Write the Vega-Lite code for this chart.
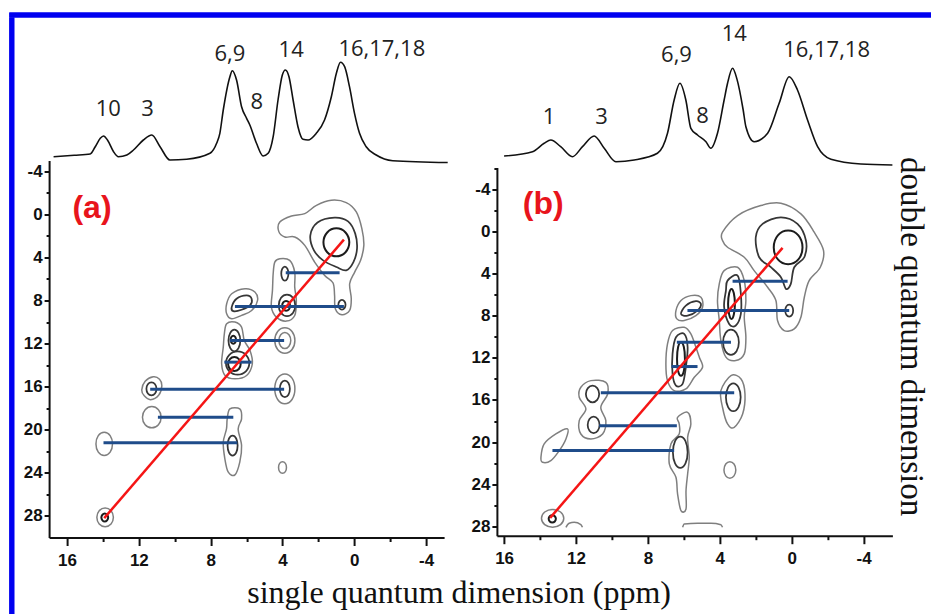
{
"$schema":"https://vega.github.io/schema/vega-lite/v6.json",
"padding":{"left":9.3,"top":12.5,"right":0,"bottom":0},
"background":"white",
"title":{"text":"single quantum dimension (ppm)","orient":"bottom","anchor":"middle","frame":"bounds","offset":-36,"dx":-11,"font":"Liberation Serif","fontSize":32,"fontWeight":"normal","color":"#111"},
"datasets":{
"spa":[{"ppm":16.75,"i":3.5},{"ppm":15.6,"i":4.9},{"ppm":14.71,"i":6.2},{"ppm":14.43,"i":13.5},{"ppm":14.15,"i":21.9},{"ppm":13.97,"i":24.2},{"ppm":13.75,"i":20.2},{"ppm":13.41,"i":8.5},{"ppm":13.14,"i":3.5},{"ppm":12.67,"i":5.2},{"ppm":12.3,"i":10.2},{"ppm":11.75,"i":20.2},{"ppm":11.28,"i":25.2},{"ppm":10.82,"i":13.5},{"ppm":10.27,"i":0.2},{"ppm":9.34,"i":0.9},{"ppm":8.04,"i":6.9},{"ppm":7.67,"i":16.9},{"ppm":7.49,"i":26.9},{"ppm":7.3,"i":50.2},{"ppm":6.93,"i":83.5},{"ppm":6.8,"i":89.5},{"ppm":6.56,"i":80.2},{"ppm":6.28,"i":53.5},{"ppm":6.0,"i":41.9},{"ppm":5.82,"i":35.2},{"ppm":5.45,"i":16.9},{"ppm":5.08,"i":4.2},{"ppm":4.8,"i":6.9},{"ppm":4.52,"i":23.5},{"ppm":4.25,"i":60.2},{"ppm":4.01,"i":85.2},{"ppm":3.84,"i":90.2},{"ppm":3.64,"i":83.5},{"ppm":3.41,"i":60.2},{"ppm":3.14,"i":33.5},{"ppm":2.86,"i":20.9},{"ppm":2.58,"i":20.2},{"ppm":2.12,"i":26.9},{"ppm":1.66,"i":40.2},{"ppm":1.28,"i":63.5},{"ppm":1.0,"i":86.9},{"ppm":0.77,"i":97.9},{"ppm":0.54,"i":93.5},{"ppm":0.27,"i":73.5},{"ppm":-0.01,"i":46.9},{"ppm":-0.29,"i":26.9},{"ppm":-0.66,"i":13.5},{"ppm":-1.22,"i":5.2},{"ppm":-2.14,"i":-0.5},{"ppm":-5.2,"i":-2.3}],
"spb":[{"ppm":16.0,"i":10.9},{"ppm":14.42,"i":15.2},{"ppm":13.77,"i":23.6},{"ppm":13.4,"i":26.9},{"ppm":12.85,"i":20.2},{"ppm":12.2,"i":10.2},{"ppm":11.64,"i":20.2},{"ppm":10.99,"i":30.9},{"ppm":10.43,"i":18.6},{"ppm":9.78,"i":5.2},{"ppm":8.76,"i":6.9},{"ppm":7.47,"i":13.6},{"ppm":6.91,"i":33.6},{"ppm":6.54,"i":66.9},{"ppm":6.22,"i":83.6},{"ppm":5.89,"i":66.9},{"ppm":5.61,"i":38.6},{"ppm":5.24,"i":31.9},{"ppm":4.77,"i":25.2},{"ppm":4.5,"i":18.6},{"ppm":4.13,"i":33.6},{"ppm":3.76,"i":66.9},{"ppm":3.57,"i":83.6},{"ppm":3.29,"i":98.6},{"ppm":3.05,"i":88},{"ppm":2.7,"i":56.9},{"ppm":2.55,"i":40.2},{"ppm":2.09,"i":25.2},{"ppm":1.34,"i":33.6},{"ppm":0.7,"i":63.6},{"ppm":0.14,"i":90.2},{"ppm":-0.32,"i":76.9},{"ppm":-0.88,"i":46.9},{"ppm":-1.44,"i":20.2},{"ppm":-2.18,"i":7.6},{"ppm":-3.85,"i":2.9},{"ppm":-5.6,"i":1.9}],
"la":[{"t":"10","ppm":13.7,"i":50.8},{"t":"3","ppm":11.52,"i":50.8},{"t":"6,9","ppm":6.93,"i":106.7},{"t":"8","ppm":5.43,"i":58.3},{"t":"14","ppm":3.52,"i":110},{"t":"16,17,18","ppm":-1.53,"i":111.3}],
"lb":[{"t":"1","ppm":13.5,"i":50},{"t":"3","ppm":10.58,"i":50},{"t":"6,9","ppm":6.41,"i":112.4},{"t":"8","ppm":4.96,"i":50.7},{"t":"14","ppm":3.2,"i":133.4},{"t":"16,17,18","ppm":-1.94,"i":116.7}],
"pa":[{"t":"(a)","x":14.61,"y":-0.56}],
"pb":[{"t":"(b)","x":13.82,"y":-2.64}],
"ba":[{"x1":3.82,"x2":0.82,"y":5.42},{"x1":6.65,"x2":0.58,"y":8.55},{"x1":6.93,"x2":3.91,"y":11.7},{"x1":7.24,"x2":5.72,"y":13.72},{"x1":11.37,"x2":3.91,"y":16.23},{"x1":10.94,"x2":6.74,"y":18.83},{"x1":13.97,"x2":6.52,"y":21.2}],
"ra":[{"x1":13.93,"y1":28.2,"x2":0.58,"y2":2.35}],
"bb":[{"x1":3.29,"x2":0.23,"y":4.71},{"x1":5.8,"x2":0.14,"y":7.5},{"x1":6.39,"x2":3.38,"y":10.51},{"x1":6.69,"x2":5.24,"y":12.82},{"x1":10.62,"x2":3.2,"y":15.32},{"x1":10.71,"x2":6.39,"y":18.44},{"x1":13.31,"x2":6.54,"y":20.81}],
"rb":[{"x1":13.44,"y1":27.21,"x2":0.51,"y2":1.54}],
"arcs":[{"c":1,"x":12.56,"y":28.1},{"c":1,"x":12.38,"y":27.72},{"c":1,"x":12.1,"y":27.63},{"c":1,"x":11.73,"y":27.85},{"c":1,"x":11.64,"y":28.1},{"c":2,"x":6.07,"y":28.1},{"c":2,"x":5.98,"y":27.78},{"c":2,"x":5.24,"y":27.72},{"c":2,"x":4.49,"y":27.72},{"c":2,"x":3.94,"y":27.85},{"c":2,"x":3.85,"y":28.1}],
"ca":[
{"c":1,"l":1,"x":4.15,"y":0.71},{"c":1,"l":1,"x":3.5,"y":0.15},{"c":1,"l":1,"x":2.76,"y":-0.07},{"c":1,"l":1,"x":2.11,"y":-0.84},{"c":1,"l":1,"x":1.28,"y":-1.31},{"c":1,"l":1,"x":0.45,"y":-1.09},{"c":1,"l":1,"x":-0.11,"y":-0.22},{"c":1,"l":1,"x":-0.42,"y":1.33},{"c":1,"l":1,"x":-0.53,"y":2.88},{"c":1,"l":1,"x":-0.35,"y":4.27},{"c":1,"l":1,"x":-0.02,"y":5.36},{"c":1,"l":1,"x":0.26,"y":6.44},{"c":1,"l":1,"x":0.17,"y":7.83},{"c":1,"l":1,"x":0.26,"y":8.92},{"c":1,"l":1,"x":0.69,"y":9.32},{"c":1,"l":1,"x":1.06,"y":8.76},{"c":1,"l":1,"x":1.1,"y":7.52},{"c":1,"l":1,"x":1.19,"y":6.35},{"c":1,"l":1,"x":1.65,"y":5.67},{"c":1,"l":1,"x":2.21,"y":4.43},{"c":1,"l":1,"x":2.76,"y":2.88},{"c":1,"l":1,"x":3.32,"y":2.1},{"c":1,"l":1,"x":3.87,"y":2.1},{"c":1,"l":1,"x":4.21,"y":1.58},
{"c":2,"l":2,"x":2.45,"y":1.95},{"c":2,"l":2,"x":2.05,"y":0.75},{"c":2,"l":2,"x":1.1,"y":0.3},{"c":2,"l":2,"x":0.35,"y":0.65},{"c":2,"l":2,"x":-0.05,"y":1.79},{"c":2,"l":2,"x":-0.15,"y":3.19},{"c":2,"l":2,"x":0.05,"y":4.43},{"c":2,"l":2,"x":0.45,"y":5.2},{"c":2,"l":2,"x":1.0,"y":4.89},{"c":2,"l":2,"x":1.74,"y":4.27},{"c":2,"l":2,"x":2.25,"y":3.34},
{"c":3,"l":3,"x":0.28,"y":2.6},{"c":3,"l":3,"x":0.49,"y":3.52},{"c":3,"l":3,"x":1.0,"y":3.9},{"c":3,"l":3,"x":1.51,"y":3.52},{"c":3,"l":3,"x":1.72,"y":2.6},{"c":3,"l":3,"x":1.51,"y":1.68},{"c":3,"l":3,"x":1.0,"y":1.3},{"c":3,"l":3,"x":0.49,"y":1.68},
{"c":4,"l":2,"x":0.49,"y":8.4},{"c":4,"l":2,"x":0.55,"y":8.72},{"c":4,"l":2,"x":0.69,"y":8.85},{"c":4,"l":2,"x":0.83,"y":8.72},{"c":4,"l":2,"x":0.89,"y":8.4},{"c":4,"l":2,"x":0.83,"y":8.08},{"c":4,"l":2,"x":0.69,"y":7.95},{"c":4,"l":2,"x":0.55,"y":8.08},
{"c":5,"l":1,"x":4.15,"y":4.12},{"c":5,"l":1,"x":3.6,"y":4.27},{"c":5,"l":1,"x":3.32,"y":5.36},{"c":5,"l":1,"x":3.32,"y":6.75},{"c":5,"l":1,"x":3.23,"y":7.99},{"c":5,"l":1,"x":3.32,"y":9.39},{"c":5,"l":1,"x":3.78,"y":9.91},{"c":5,"l":1,"x":4.34,"y":9.54},{"c":5,"l":1,"x":4.62,"y":8.61},{"c":5,"l":1,"x":4.56,"y":7.06},{"c":5,"l":1,"x":4.52,"y":5.51},{"c":5,"l":1,"x":4.43,"y":4.43},
{"c":6,"l":2,"x":3.67,"y":5.5},{"c":6,"l":2,"x":3.73,"y":5.96},{"c":6,"l":2,"x":3.87,"y":6.15},{"c":6,"l":2,"x":4.01,"y":5.96},{"c":6,"l":2,"x":4.07,"y":5.5},{"c":6,"l":2,"x":4.01,"y":5.04},{"c":6,"l":2,"x":3.87,"y":4.85},{"c":6,"l":2,"x":3.73,"y":5.04},
{"c":7,"l":2,"x":3.29,"y":8.45},{"c":7,"l":2,"x":3.42,"y":9.16},{"c":7,"l":2,"x":3.75,"y":9.45},{"c":7,"l":2,"x":4.08,"y":9.16},{"c":7,"l":2,"x":4.21,"y":8.45},{"c":7,"l":2,"x":4.08,"y":7.74},{"c":7,"l":2,"x":3.75,"y":7.45},{"c":7,"l":2,"x":3.42,"y":7.74},
{"c":8,"l":3,"x":3.58,"y":8.5},{"c":8,"l":3,"x":3.64,"y":8.82},{"c":8,"l":3,"x":3.8,"y":8.95},{"c":8,"l":3,"x":3.96,"y":8.82},{"c":8,"l":3,"x":4.02,"y":8.5},{"c":8,"l":3,"x":3.96,"y":8.18},{"c":8,"l":3,"x":3.8,"y":8.05},{"c":8,"l":3,"x":3.64,"y":8.18},
{"c":9,"l":1,"x":7.11,"y":8.3},{"c":9,"l":1,"x":6.83,"y":7.37},{"c":9,"l":1,"x":6.09,"y":6.9},{"c":9,"l":1,"x":5.54,"y":7.21},{"c":9,"l":1,"x":5.39,"y":7.99},{"c":9,"l":1,"x":5.72,"y":8.92},{"c":9,"l":1,"x":6.28,"y":9.38},{"c":9,"l":1,"x":6.83,"y":9.69},{"c":9,"l":1,"x":7.11,"y":9.23},
{"c":10,"l":2,"x":6.83,"y":8.61},{"c":10,"l":2,"x":6.56,"y":7.83},{"c":10,"l":2,"x":6.0,"y":7.52},{"c":10,"l":2,"x":5.72,"y":7.83},{"c":10,"l":2,"x":5.81,"y":8.45},{"c":10,"l":2,"x":6.28,"y":8.86},{"c":10,"l":2,"x":6.74,"y":8.98},
{"c":11,"l":1,"x":7.11,"y":10.16},{"c":11,"l":1,"x":6.65,"y":10.0},{"c":11,"l":1,"x":6.28,"y":10.47},{"c":11,"l":1,"x":6.13,"y":11.71},{"c":11,"l":1,"x":5.81,"y":12.64},{"c":11,"l":1,"x":5.68,"y":13.87},{"c":11,"l":1,"x":6.0,"y":14.96},{"c":11,"l":1,"x":6.65,"y":15.27},{"c":11,"l":1,"x":7.2,"y":14.96},{"c":11,"l":1,"x":7.39,"y":13.87},{"c":11,"l":1,"x":7.3,"y":12.33},{"c":11,"l":1,"x":7.24,"y":11.09},
{"c":12,"l":2,"x":6.35,"y":11.71},{"c":12,"l":2,"x":6.45,"y":12.42},{"c":12,"l":2,"x":6.68,"y":12.71},{"c":12,"l":2,"x":6.91,"y":12.42},{"c":12,"l":2,"x":7.01,"y":11.71},{"c":12,"l":2,"x":6.91,"y":11.0},{"c":12,"l":2,"x":6.68,"y":10.71},{"c":12,"l":2,"x":6.45,"y":11.0},
{"c":13,"l":3,"x":6.59,"y":11.64},{"c":13,"l":3,"x":6.63,"y":11.9},{"c":13,"l":3,"x":6.74,"y":12.01},{"c":13,"l":3,"x":6.85,"y":11.9},{"c":13,"l":3,"x":6.89,"y":11.64},{"c":13,"l":3,"x":6.85,"y":11.38},{"c":13,"l":3,"x":6.74,"y":11.27},{"c":13,"l":3,"x":6.63,"y":11.38},
{"c":14,"l":2,"x":5.85,"y":13.81},{"c":14,"l":2,"x":6.04,"y":14.58},{"c":14,"l":2,"x":6.5,"y":14.89},{"c":14,"l":2,"x":6.96,"y":14.58},{"c":14,"l":2,"x":7.15,"y":13.81},{"c":14,"l":2,"x":6.96,"y":13.04},{"c":14,"l":2,"x":6.5,"y":12.73},{"c":14,"l":2,"x":6.04,"y":13.04},
{"c":15,"l":3,"x":6.33,"y":13.9},{"c":15,"l":3,"x":6.43,"y":14.36},{"c":15,"l":3,"x":6.68,"y":14.55},{"c":15,"l":3,"x":6.93,"y":14.36},{"c":15,"l":3,"x":7.03,"y":13.9},{"c":15,"l":3,"x":6.93,"y":13.44},{"c":15,"l":3,"x":6.68,"y":13.25},{"c":15,"l":3,"x":6.43,"y":13.44},
{"c":16,"l":1,"x":3.31,"y":11.71},{"c":16,"l":1,"x":3.47,"y":12.55},{"c":16,"l":1,"x":3.87,"y":12.89},{"c":16,"l":1,"x":4.27,"y":12.55},{"c":16,"l":1,"x":4.43,"y":11.71},{"c":16,"l":1,"x":4.27,"y":10.87},{"c":16,"l":1,"x":3.87,"y":10.53},{"c":16,"l":1,"x":3.47,"y":10.87},
{"c":17,"l":1,"x":3.54,"y":11.71},{"c":17,"l":1,"x":3.64,"y":12.24},{"c":17,"l":1,"x":3.87,"y":12.46},{"c":17,"l":1,"x":4.1,"y":12.24},{"c":17,"l":1,"x":4.2,"y":11.71},{"c":17,"l":1,"x":4.1,"y":11.18},{"c":17,"l":1,"x":3.87,"y":10.96},{"c":17,"l":1,"x":3.64,"y":11.18},
{"c":18,"l":1,"x":3.31,"y":16.2},{"c":18,"l":1,"x":3.47,"y":17.19},{"c":18,"l":1,"x":3.87,"y":17.59},{"c":18,"l":1,"x":4.27,"y":17.19},{"c":18,"l":1,"x":4.43,"y":16.2},{"c":18,"l":1,"x":4.27,"y":15.21},{"c":18,"l":1,"x":3.87,"y":14.81},{"c":18,"l":1,"x":3.47,"y":15.21},
{"c":19,"l":2,"x":3.59,"y":16.2},{"c":19,"l":2,"x":3.67,"y":16.75},{"c":19,"l":2,"x":3.87,"y":16.97},{"c":19,"l":2,"x":4.07,"y":16.75},{"c":19,"l":2,"x":4.15,"y":16.2},{"c":19,"l":2,"x":4.07,"y":15.65},{"c":19,"l":2,"x":3.87,"y":15.43},{"c":19,"l":2,"x":3.67,"y":15.65},
{"c":20,"l":1,"x":10.72,"y":15.9},{"c":20,"l":1,"x":10.9,"y":16.8},{"c":20,"l":1,"x":11.35,"y":17.2},{"c":20,"l":1,"x":11.7,"y":16.85},{"c":20,"l":1,"x":11.84,"y":16.3},{"c":20,"l":1,"x":11.65,"y":15.5},{"c":20,"l":1,"x":11.2,"y":15.08},{"c":20,"l":1,"x":10.85,"y":15.3},
{"c":21,"l":2,"x":11.02,"y":16.2},{"c":21,"l":2,"x":11.1,"y":16.63},{"c":21,"l":2,"x":11.3,"y":16.8},{"c":21,"l":2,"x":11.5,"y":16.63},{"c":21,"l":2,"x":11.58,"y":16.2},{"c":21,"l":2,"x":11.5,"y":15.77},{"c":21,"l":2,"x":11.3,"y":15.6},{"c":21,"l":2,"x":11.1,"y":15.77},
{"c":22,"l":1,"x":10.76,"y":18.83},{"c":22,"l":1,"x":10.91,"y":19.53},{"c":22,"l":1,"x":11.28,"y":19.82},{"c":22,"l":1,"x":11.65,"y":19.53},{"c":22,"l":1,"x":11.8,"y":18.83},{"c":22,"l":1,"x":11.65,"y":18.13},{"c":22,"l":1,"x":11.28,"y":17.84},{"c":22,"l":1,"x":10.91,"y":18.13},
{"c":23,"l":1,"x":13.47,"y":21.31},{"c":23,"l":1,"x":13.6,"y":22.08},{"c":23,"l":1,"x":13.93,"y":22.39},{"c":23,"l":1,"x":14.26,"y":22.08},{"c":23,"l":1,"x":14.39,"y":21.31},{"c":23,"l":1,"x":14.26,"y":20.54},{"c":23,"l":1,"x":13.93,"y":20.23},{"c":23,"l":1,"x":13.6,"y":20.54},
{"c":24,"l":1,"x":6.93,"y":18.06},{"c":24,"l":1,"x":6.38,"y":18.06},{"c":24,"l":1,"x":6.28,"y":18.99},{"c":24,"l":1,"x":6.47,"y":19.92},{"c":24,"l":1,"x":6.28,"y":21.47},{"c":24,"l":1,"x":6.38,"y":23.01},{"c":24,"l":1,"x":6.65,"y":24.19},{"c":24,"l":1,"x":7.02,"y":23.94},{"c":24,"l":1,"x":7.21,"y":22.7},{"c":24,"l":1,"x":7.3,"y":21.16},{"c":24,"l":1,"x":7.12,"y":19.92},{"c":24,"l":1,"x":7.08,"y":18.99},
{"c":25,"l":2,"x":6.5,"y":21.47},{"c":25,"l":2,"x":6.58,"y":22.13},{"c":25,"l":2,"x":6.78,"y":22.4},{"c":25,"l":2,"x":6.98,"y":22.13},{"c":25,"l":2,"x":7.06,"y":21.47},{"c":25,"l":2,"x":6.98,"y":20.81},{"c":25,"l":2,"x":6.78,"y":20.54},{"c":25,"l":2,"x":6.58,"y":20.81},
{"c":26,"l":1,"x":3.78,"y":23.5},{"c":26,"l":1,"x":3.84,"y":23.88},{"c":26,"l":1,"x":4.0,"y":24.03},{"c":26,"l":1,"x":4.16,"y":23.88},{"c":26,"l":1,"x":4.22,"y":23.5},{"c":26,"l":1,"x":4.16,"y":23.12},{"c":26,"l":1,"x":4.0,"y":22.97},{"c":26,"l":1,"x":3.84,"y":23.12},
{"c":27,"l":1,"x":13.42,"y":28.13},{"c":27,"l":1,"x":13.55,"y":28.75},{"c":27,"l":1,"x":13.88,"y":29.0},{"c":27,"l":1,"x":14.21,"y":28.75},{"c":27,"l":1,"x":14.34,"y":28.13},{"c":27,"l":1,"x":14.21,"y":27.51},{"c":27,"l":1,"x":13.88,"y":27.26},{"c":27,"l":1,"x":13.55,"y":27.51},
{"c":28,"l":3,"x":13.71,"y":28.15},{"c":28,"l":3,"x":13.77,"y":28.41},{"c":28,"l":3,"x":13.9,"y":28.52},{"c":28,"l":3,"x":14.03,"y":28.41},{"c":28,"l":3,"x":14.09,"y":28.15},{"c":28,"l":3,"x":14.03,"y":27.89},{"c":28,"l":3,"x":13.9,"y":27.78},{"c":28,"l":3,"x":13.77,"y":27.89}
],
"cb":[
{"c":1,"l":1,"x":3.85,"y":0.05},{"c":1,"l":1,"x":3.01,"y":-1.53},{"c":1,"l":1,"x":1.72,"y":-2.48},{"c":1,"l":1,"x":0.6,"y":-2.7},{"c":1,"l":1,"x":-0.51,"y":-1.69},{"c":1,"l":1,"x":-1.25,"y":0.05},{"c":1,"l":1,"x":-1.77,"y":1.8},{"c":1,"l":1,"x":-1.59,"y":3.38},{"c":1,"l":1,"x":-0.97,"y":4.65},{"c":1,"l":1,"x":-0.7,"y":6.23},{"c":1,"l":1,"x":-0.51,"y":8.13},{"c":1,"l":1,"x":-0.14,"y":9.24},{"c":1,"l":1,"x":0.42,"y":9.4},{"c":1,"l":1,"x":0.79,"y":8.45},{"c":1,"l":1,"x":0.88,"y":6.55},{"c":1,"l":1,"x":1.34,"y":5.28},{"c":1,"l":1,"x":2.09,"y":3.7},{"c":1,"l":1,"x":2.64,"y":2.43},{"c":1,"l":1,"x":3.57,"y":1.48},{"c":1,"l":1,"x":3.85,"y":0.84},
{"c":2,"l":2,"x":2.0,"y":0.53},{"c":2,"l":2,"x":1.62,"y":-0.74},{"c":2,"l":2,"x":0.6,"y":-1.37},{"c":2,"l":2,"x":-0.32,"y":-0.74},{"c":2,"l":2,"x":-0.79,"y":0.84},{"c":2,"l":2,"x":-0.7,"y":2.43},{"c":2,"l":2,"x":-0.14,"y":3.38},{"c":2,"l":2,"x":0.05,"y":4.96},{"c":2,"l":2,"x":0.32,"y":5.44},{"c":2,"l":2,"x":0.6,"y":4.33},{"c":2,"l":2,"x":1.16,"y":3.38},{"c":2,"l":2,"x":1.81,"y":2.43},
{"c":3,"l":3,"x":-0.6,"y":1.5},{"c":3,"l":3,"x":-0.37,"y":2.64},{"c":3,"l":3,"x":0.2,"y":3.1},{"c":3,"l":3,"x":0.77,"y":2.64},{"c":3,"l":3,"x":1.0,"y":1.5},{"c":3,"l":3,"x":0.77,"y":0.36},{"c":3,"l":3,"x":0.2,"y":-0.1},{"c":3,"l":3,"x":-0.37,"y":0.36},
{"c":4,"l":2,"x":-0.08,"y":7.5},{"c":4,"l":2,"x":-0.02,"y":7.9},{"c":4,"l":2,"x":0.14,"y":8.07},{"c":4,"l":2,"x":0.3,"y":7.9},{"c":4,"l":2,"x":0.36,"y":7.5},{"c":4,"l":2,"x":0.3,"y":7.1},{"c":4,"l":2,"x":0.14,"y":6.93},{"c":4,"l":2,"x":-0.02,"y":7.1},
{"c":5,"l":1,"x":3.76,"y":3.7},{"c":5,"l":1,"x":3.01,"y":3.38},{"c":5,"l":1,"x":2.64,"y":4.65},{"c":5,"l":1,"x":2.55,"y":6.55},{"c":5,"l":1,"x":2.64,"y":8.13},{"c":5,"l":1,"x":2.55,"y":10.03},{"c":5,"l":1,"x":2.64,"y":11.62},{"c":5,"l":1,"x":3.11,"y":12.25},{"c":5,"l":1,"x":3.66,"y":11.93},{"c":5,"l":1,"x":3.94,"y":10.35},{"c":5,"l":1,"x":4.03,"y":8.45},{"c":5,"l":1,"x":4.13,"y":6.55},{"c":5,"l":1,"x":4.03,"y":4.96},
{"c":6,"l":2,"x":3.57,"y":4.65},{"c":6,"l":2,"x":3.01,"y":4.17},{"c":6,"l":2,"x":2.83,"y":5.91},{"c":6,"l":2,"x":2.83,"y":7.82},{"c":6,"l":2,"x":3.11,"y":8.92},{"c":6,"l":2,"x":3.48,"y":8.77},{"c":6,"l":2,"x":3.76,"y":7.18},{"c":6,"l":2,"x":3.66,"y":5.6},
{"c":7,"l":3,"x":3.16,"y":6.87},{"c":7,"l":3,"x":3.22,"y":7.88},{"c":7,"l":3,"x":3.35,"y":8.3},{"c":7,"l":3,"x":3.48,"y":7.88},{"c":7,"l":3,"x":3.54,"y":6.87},{"c":7,"l":3,"x":3.48,"y":5.86},{"c":7,"l":3,"x":3.35,"y":5.44},{"c":7,"l":3,"x":3.22,"y":5.86},
{"c":8,"l":2,"x":2.94,"y":10.51},{"c":8,"l":2,"x":3.07,"y":11.36},{"c":8,"l":2,"x":3.38,"y":11.71},{"c":8,"l":2,"x":3.69,"y":11.36},{"c":8,"l":2,"x":3.82,"y":10.51},{"c":8,"l":2,"x":3.69,"y":9.66},{"c":8,"l":2,"x":3.38,"y":9.31},{"c":8,"l":2,"x":3.07,"y":9.66},
{"c":9,"l":1,"x":6.44,"y":7.5},{"c":9,"l":1,"x":6.16,"y":6.55},{"c":9,"l":1,"x":5.61,"y":6.08},{"c":9,"l":1,"x":5.05,"y":6.23},{"c":9,"l":1,"x":4.96,"y":7.18},{"c":9,"l":1,"x":5.33,"y":7.98},{"c":9,"l":1,"x":5.98,"y":8.45},{"c":9,"l":1,"x":6.39,"y":8.29},
{"c":10,"l":2,"x":6.16,"y":7.82},{"c":10,"l":2,"x":5.89,"y":7.03},{"c":10,"l":2,"x":5.33,"y":6.61},{"c":10,"l":2,"x":5.05,"y":6.87},{"c":10,"l":2,"x":5.24,"y":7.5},{"c":10,"l":2,"x":5.79,"y":7.98},
{"c":11,"l":1,"x":6.63,"y":9.4},{"c":11,"l":1,"x":5.98,"y":9.09},{"c":11,"l":1,"x":5.61,"y":9.72},{"c":11,"l":1,"x":5.33,"y":10.99},{"c":11,"l":1,"x":5.14,"y":11.94},{"c":11,"l":1,"x":4.96,"y":12.89},{"c":11,"l":1,"x":5.42,"y":13.84},{"c":11,"l":1,"x":5.89,"y":14.95},{"c":11,"l":1,"x":6.54,"y":15.11},{"c":11,"l":1,"x":6.91,"y":14.16},{"c":11,"l":1,"x":7.0,"y":12.57},{"c":11,"l":1,"x":6.91,"y":10.67},
{"c":12,"l":2,"x":6.44,"y":10.04},{"c":12,"l":2,"x":5.98,"y":9.72},{"c":12,"l":2,"x":5.79,"y":10.99},{"c":12,"l":2,"x":5.89,"y":12.89},{"c":12,"l":2,"x":6.07,"y":14.47},{"c":12,"l":2,"x":6.44,"y":14.63},{"c":12,"l":2,"x":6.63,"y":13.52},{"c":12,"l":2,"x":6.63,"y":11.62},
{"c":13,"l":3,"x":5.94,"y":12.1},{"c":13,"l":3,"x":6.0,"y":13.24},{"c":13,"l":3,"x":6.16,"y":13.7},{"c":13,"l":3,"x":6.32,"y":13.24},{"c":13,"l":3,"x":6.38,"y":12.1},{"c":13,"l":3,"x":6.32,"y":10.96},{"c":13,"l":3,"x":6.16,"y":10.5},{"c":13,"l":3,"x":6.0,"y":10.96},
{"c":14,"l":1,"x":3.38,"y":13.68},{"c":14,"l":1,"x":2.82,"y":14.0},{"c":14,"l":1,"x":2.6,"y":15.43},{"c":14,"l":1,"x":2.73,"y":17.33},{"c":14,"l":1,"x":3.2,"y":18.6},{"c":14,"l":1,"x":3.57,"y":18.28},{"c":14,"l":1,"x":3.85,"y":16.69},{"c":14,"l":1,"x":3.94,"y":15.11},
{"c":15,"l":2,"x":2.84,"y":15.74},{"c":15,"l":2,"x":2.96,"y":16.68},{"c":15,"l":2,"x":3.25,"y":17.07},{"c":15,"l":2,"x":3.54,"y":16.68},{"c":15,"l":2,"x":3.66,"y":15.74},{"c":15,"l":2,"x":3.54,"y":14.8},{"c":15,"l":2,"x":3.25,"y":14.41},{"c":15,"l":2,"x":2.96,"y":14.8},
{"c":16,"l":1,"x":11.73,"y":14.79},{"c":16,"l":1,"x":11.17,"y":14.16},{"c":16,"l":1,"x":10.34,"y":14.32},{"c":16,"l":1,"x":10.24,"y":15.43},{"c":16,"l":1,"x":10.62,"y":16.69},{"c":16,"l":1,"x":10.34,"y":17.96},{"c":16,"l":1,"x":10.52,"y":19.23},{"c":16,"l":1,"x":11.17,"y":19.7},{"c":16,"l":1,"x":11.73,"y":19.23},{"c":16,"l":1,"x":11.82,"y":17.96},{"c":16,"l":1,"x":11.45,"y":16.85},{"c":16,"l":1,"x":11.82,"y":15.74},
{"c":17,"l":2,"x":10.71,"y":15.43},{"c":17,"l":2,"x":10.82,"y":15.99},{"c":17,"l":2,"x":11.08,"y":16.22},{"c":17,"l":2,"x":11.34,"y":15.99},{"c":17,"l":2,"x":11.45,"y":15.43},{"c":17,"l":2,"x":11.34,"y":14.87},{"c":17,"l":2,"x":11.08,"y":14.64},{"c":17,"l":2,"x":10.82,"y":14.87},
{"c":18,"l":2,"x":10.69,"y":18.37},{"c":18,"l":2,"x":10.79,"y":18.93},{"c":18,"l":2,"x":11.02,"y":19.16},{"c":18,"l":2,"x":11.25,"y":18.93},{"c":18,"l":2,"x":11.35,"y":18.37},{"c":18,"l":2,"x":11.25,"y":17.81},{"c":18,"l":2,"x":11.02,"y":17.58},{"c":18,"l":2,"x":10.79,"y":17.81},
{"c":20,"l":1,"x":13.95,"y":21.45},{"c":20,"l":1,"x":13.77,"y":20.18},{"c":20,"l":1,"x":13.12,"y":19.23},{"c":20,"l":1,"x":12.47,"y":18.75},{"c":20,"l":1,"x":12.56,"y":19.7},{"c":20,"l":1,"x":12.93,"y":20.81},{"c":20,"l":1,"x":13.4,"y":21.76},{"c":20,"l":1,"x":13.86,"y":21.92},
{"c":21,"l":1,"x":6.35,"y":17.65},{"c":21,"l":1,"x":5.79,"y":17.17},{"c":21,"l":1,"x":5.61,"y":18.28},{"c":21,"l":1,"x":5.79,"y":19.55},{"c":21,"l":1,"x":5.7,"y":21.45},{"c":21,"l":1,"x":5.79,"y":23.03},{"c":21,"l":1,"x":5.88,"y":24.62},{"c":21,"l":1,"x":5.88,"y":26.36},{"c":21,"l":1,"x":6.16,"y":26.52},{"c":21,"l":1,"x":6.35,"y":24.93},{"c":21,"l":1,"x":6.44,"y":23.35},{"c":21,"l":1,"x":6.81,"y":22.08},{"c":21,"l":1,"x":6.72,"y":20.18},{"c":21,"l":1,"x":6.26,"y":19.23},{"c":21,"l":1,"x":6.26,"y":18.28},
{"c":22,"l":2,"x":5.79,"y":20.97},{"c":22,"l":2,"x":5.91,"y":22.03},{"c":22,"l":2,"x":6.2,"y":22.46},{"c":22,"l":2,"x":6.49,"y":22.03},{"c":22,"l":2,"x":6.61,"y":20.97},{"c":22,"l":2,"x":6.49,"y":19.91},{"c":22,"l":2,"x":6.2,"y":19.48},{"c":22,"l":2,"x":5.91,"y":19.91},
{"c":23,"l":1,"x":3.11,"y":22.65},{"c":23,"l":1,"x":3.21,"y":23.21},{"c":23,"l":1,"x":3.44,"y":23.44},{"c":23,"l":1,"x":3.67,"y":23.21},{"c":23,"l":1,"x":3.77,"y":22.65},{"c":23,"l":1,"x":3.67,"y":22.09},{"c":23,"l":1,"x":3.44,"y":21.86},{"c":23,"l":1,"x":3.21,"y":22.09},
{"c":24,"l":1,"x":12.68,"y":27.25},{"c":24,"l":1,"x":12.86,"y":27.85},{"c":24,"l":1,"x":13.3,"y":28.1},{"c":24,"l":1,"x":13.74,"y":27.85},{"c":24,"l":1,"x":13.92,"y":27.25},{"c":24,"l":1,"x":13.74,"y":26.65},{"c":24,"l":1,"x":13.3,"y":26.4},{"c":24,"l":1,"x":12.86,"y":26.65},
{"c":25,"l":3,"x":13.12,"y":27.3},{"c":25,"l":3,"x":13.18,"y":27.55},{"c":25,"l":3,"x":13.32,"y":27.65},{"c":25,"l":3,"x":13.46,"y":27.55},{"c":25,"l":3,"x":13.52,"y":27.3},{"c":25,"l":3,"x":13.46,"y":27.05},{"c":25,"l":3,"x":13.32,"y":26.95},{"c":25,"l":3,"x":13.18,"y":27.05}
]
},
"spacing":0,
"vconcat":[
{"width":921.7,"height":5,"view":{"fill":"#0000f0","stroke":null},"data":{"values":[{}]},"mark":{"type":"rect","color":"#0000f0"},"encoding":{}},
{"spacing":8.8,"hconcat":[
 {"width":5,"height":597,"view":{"fill":"#0000f0","stroke":null},"data":{"values":[{}]},"mark":{"type":"rect","color":"#0000f0"},"encoding":{}},
 {"spacing":0,"bounds":"flush","vconcat":[
  {"width":412.3,"height":142.7,"layer":[
   {"data":{"name":"spa"},"mark":{"type":"line","interpolate":"monotone","color":"#111","strokeWidth":1.6},
    "encoding":{"x":{"field":"ppm","type":"quantitative","scale":{"domain":[17,-5.963],"nice":false,"zero":false},"axis":null},
                "y":{"field":"i","type":"quantitative","scale":{"domain":[0,142.7],"nice":false,"zero":false},"axis":null}}},
   {"data":{"name":"la"},"mark":{"type":"text","font":"Open Sans","fontSize":22,"color":"#222","align":"center","baseline":"middle"},
    "encoding":{"x":{"field":"ppm","type":"quantitative","scale":{"domain":[17,-5.963],"nice":false,"zero":false},"axis":null},
                "y":{"field":"i","type":"quantitative","scale":{"domain":[0,142.7],"nice":false,"zero":false},"axis":null},
                "text":{"field":"t"}}}
  ]},
  {"width":395,"height":377,"resolve":{"axis":{"x":"independent","y":"independent"}},"layer":[
   {"data":{"name":"ca"},"mark":{"type":"line","interpolate":"cardinal-closed"},
    "encoding":{"x":{"field":"x","type":"quantitative","scale":{"domain":[17,-5],"nice":false,"zero":false},"axis":null},
                "y":{"field":"y","type":"quantitative","scale":{"domain":[30,-5],"nice":false,"zero":false},"axis":null},
                "detail":{"field":"c","type":"nominal"},
                "order":{"value":null},
                "color":{"field":"l","type":"ordinal","scale":{"domain":[1,2,3],"range":["#7f7f7f","#363636","#1c1c1c"]},"legend":null},
                "strokeWidth":{"field":"l","type":"quantitative","scale":{"domain":[1,3],"range":[1.5,2]},"legend":null}}},
   {"data":{"name":"ba"},"mark":{"type":"rule","color":"#1f4c8a","strokeWidth":3},
    "encoding":{"x":{"field":"x1","type":"quantitative","scale":{"domain":[17,-5],"nice":false,"zero":false},"axis":{"orient":"bottom","values":[16,12,8,4,0,-4],"tickSize":8,"labelPadding":7,"title":null,"labelExpr":"toString(datum.value)"}},
                "x2":{"field":"x2"},
                "y":{"field":"y","type":"quantitative","scale":{"domain":[30,-5],"nice":false,"zero":false},"axis":{"orient":"left","values":[-4,0,4,8,12,16,20,24,28],"tickSize":5,"labelPadding":2,"title":null,"labelExpr":"toString(datum.value)"}}}},
   {"data":{"name":"ra"},"mark":{"type":"rule","color":"#f51515","strokeWidth":2.5},
    "encoding":{"x":{"field":"x1","type":"quantitative","scale":{"domain":[17,-5],"nice":false,"zero":false},"axis":{"orient":"bottom","values":[14,10,6,2,-2],"tickSize":4,"labels":false,"domain":false,"title":null}},
                "x2":{"field":"x2"},
                "y":{"field":"y1","type":"quantitative","scale":{"domain":[30,-5],"nice":false,"zero":false},"axis":{"orient":"left","values":[-2,2,6,10,14,18,22,26],"tickSize":3,"labels":false,"domain":false,"title":null}},
                "y2":{"field":"y2"}}},
   {"data":{"name":"pa"},"mark":{"type":"text","font":"Liberation Sans","fontWeight":"bold","fontSize":32,"color":"#e8141c","align":"center","baseline":"middle"},
    "encoding":{"x":{"field":"x","type":"quantitative","scale":{"domain":[17,-5],"nice":false,"zero":false},"axis":null},
                "y":{"field":"y","type":"quantitative","scale":{"domain":[30,-5],"nice":false,"zero":false},"axis":null},
                "text":{"field":"t"}}}
  ]}
 ]},
 {"spacing":0,"bounds":"flush","vconcat":[
  {"width":395.5,"height":149.4,"layer":[
   {"data":{"name":"spb"},"mark":{"type":"line","interpolate":"monotone","color":"#111","strokeWidth":1.6},
    "encoding":{"x":{"field":"ppm","type":"quantitative","scale":{"domain":[16.4,-5.6],"nice":false,"zero":false},"axis":null},
                "y":{"field":"i","type":"quantitative","scale":{"domain":[0,149.4],"nice":false,"zero":false},"axis":null}}},
   {"data":{"name":"lb"},"mark":{"type":"text","font":"Open Sans","fontSize":22,"color":"#222","align":"center","baseline":"middle"},
    "encoding":{"x":{"field":"ppm","type":"quantitative","scale":{"domain":[16.4,-5.6],"nice":false,"zero":false},"axis":null},
                "y":{"field":"i","type":"quantitative","scale":{"domain":[0,149.4],"nice":false,"zero":false},"axis":null},
                "text":{"field":"t"}}}
  ]},
  {"width":395.5,"height":368.2,"resolve":{"axis":{"x":"independent","y":"independent"}},"layer":[
   {"data":{"name":"cb"},"mark":{"type":"line","interpolate":"cardinal-closed"},
    "encoding":{"x":{"field":"x","type":"quantitative","scale":{"domain":[16.4,-5.6],"nice":false,"zero":false},"axis":null},
                "y":{"field":"y","type":"quantitative","scale":{"domain":[28.9,-6.1],"nice":false,"zero":false},"axis":null},
                "detail":{"field":"c","type":"nominal"},
                "order":{"value":null},
                "color":{"field":"l","type":"ordinal","scale":{"domain":[1,2,3],"range":["#7f7f7f","#363636","#1c1c1c"]},"legend":null},
                "strokeWidth":{"field":"l","type":"quantitative","scale":{"domain":[1,3],"range":[1.5,2]},"legend":null}}},
   {"data":{"name":"arcs"},"mark":{"type":"line","interpolate":"monotone","color":"#7f7f7f","strokeWidth":1.5},
    "encoding":{"x":{"field":"x","type":"quantitative","scale":{"domain":[16.4,-5.6],"nice":false,"zero":false},"axis":null},
                "y":{"field":"y","type":"quantitative","scale":{"domain":[28.9,-6.1],"nice":false,"zero":false},"axis":{"orient":"right","labels":false,"ticks":false,"domain":false,"title":"double quantum dimension","titleFont":"Liberation Serif","titleFontSize":33,"titleFontWeight":"normal","titleColor":"#111","titleAngle":90,"titleX":18,"titleY":168.6,"titleAlign":"center","titleBaseline":"middle"}},
                "detail":{"field":"c","type":"nominal"},
                "order":{"value":null}}},
   {"data":{"name":"bb"},"mark":{"type":"rule","color":"#1f4c8a","strokeWidth":3},
    "encoding":{"x":{"field":"x1","type":"quantitative","scale":{"domain":[16.4,-5.6],"nice":false,"zero":false},"axis":{"orient":"bottom","values":[16,12,8,4,0,-4],"tickSize":8,"labelPadding":7,"title":null,"labelExpr":"toString(datum.value)"}},
                "x2":{"field":"x2"},
                "y":{"field":"y","type":"quantitative","scale":{"domain":[28.9,-6.1],"nice":false,"zero":false},"axis":{"orient":"left","values":[-4,0,4,8,12,16,20,24,28],"tickSize":5,"labelPadding":2,"title":null,"labelExpr":"toString(datum.value)"}}}},
   {"data":{"name":"rb"},"mark":{"type":"rule","color":"#f51515","strokeWidth":2.5},
    "encoding":{"x":{"field":"x1","type":"quantitative","scale":{"domain":[16.4,-5.6],"nice":false,"zero":false},"axis":{"orient":"bottom","values":[14,10,6,2,-2],"tickSize":4,"labels":false,"domain":false,"title":null}},
                "x2":{"field":"x2"},
                "y":{"field":"y1","type":"quantitative","scale":{"domain":[28.9,-6.1],"nice":false,"zero":false},"axis":{"orient":"left","values":[-6,-2,2,6,10,14,18,22,26],"tickSize":3,"labels":false,"domain":false,"title":null}},
                "y2":{"field":"y2"}}},
   {"data":{"name":"pb"},"mark":{"type":"text","font":"Liberation Sans","fontWeight":"bold","fontSize":32,"color":"#e8141c","align":"center","baseline":"middle"},
    "encoding":{"x":{"field":"x","type":"quantitative","scale":{"domain":[16.4,-5.6],"nice":false,"zero":false},"axis":null},
                "y":{"field":"y","type":"quantitative","scale":{"domain":[28.9,-6.1],"nice":false,"zero":false},"axis":null},
                "text":{"field":"t"}}}
  ]}
 ]}
]}
],
"config":{"view":{"stroke":null},"axis":{"grid":false,"labelFont":"Liberation Sans","labelFontSize":17,"labelFontWeight":"bold","labelColor":"#111","domainColor":"#111","tickColor":"#111","domainWidth":2,"tickWidth":2,"labelFlush":false,"labelOverlap":false}}
}
